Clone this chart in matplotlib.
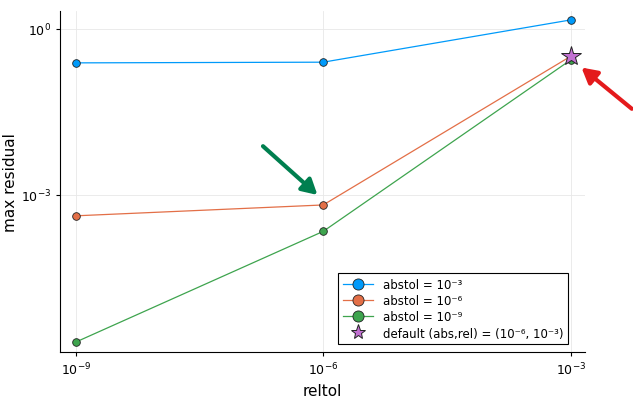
import matplotlib
matplotlib.use("Agg")
import matplotlib.pyplot as plt
import numpy as np

reltol = [1e-9, 1e-6, 1e-3]
resid_abs3 = [0.243, 0.25, 1.45]
resid_abs6 = [4.2e-4, 6.6e-4, 0.32]
resid_abs9 = [2.2e-6, 2.2e-4, 0.275]
default_pt = (1e-3, 0.32)

series = [
    ("abstol = 10⁻³", resid_abs3, "#009AFA"),
    ("abstol = 10⁻⁶", resid_abs6, "#E36F47"),
    ("abstol = 10⁻⁹", resid_abs9, "#3EA44E"),
]

fig = plt.figure(figsize=(6.33, 4.14), dpi=100)
ax = fig.add_axes([0.0948, 0.147, 0.829, 0.824])

for label, vals, col in series:
    ax.plot(reltol, vals, "-o", color=col, lw=0.9, ms=5.5, mec="#222222", mew=0.6, label=label)
ax.plot([default_pt[0]], [default_pt[1]], "*", color="#C271D2", ms=15, mec="#222222", mew=0.7,
        ls="none", label="default (abs,rel) = (10⁻⁶, 10⁻³)")

ax.set_xscale("log")
ax.set_yscale("log")
ax.set_xlim(10 ** -9.19, 10 ** -2.83)
ax.set_ylim(1.45e-6, 2.1)
ax.set_xticks(reltol)
ax.set_yticks([1e-3, 1e0])
ax.minorticks_off()
ax.grid(True, color="#e8e8e8", lw=0.6)
ax.spines["top"].set_visible(False)
ax.spines["right"].set_visible(False)
ax.tick_params(labelsize=9, length=3)
ax.set_xlabel("reltol", fontsize=11)
ax.set_ylabel("max residual", fontsize=11)
ax.yaxis.set_label_coords(-0.08, 0.5)

# annotation arrows
ax.annotate("", xy=(10 ** -6.07, 1.0e-3), xytext=(10 ** -6.73, 7.6e-3),
            arrowprops=dict(arrowstyle="-|>,head_length=0.9,head_width=0.5", color="#007F4F", lw=3,
                            shrinkA=0, shrinkB=0))
ax.annotate("", xy=(10 ** -2.87, 0.2), xytext=(10 ** -2.26, 0.036), annotation_clip=False,
            arrowprops=dict(arrowstyle="-|>,head_length=0.9,head_width=0.5", color="#E41A1C", lw=3,
                            shrinkA=0, shrinkB=0))

leg = ax.legend(loc="lower right", bbox_to_anchor=(0.968, 0.023), borderaxespad=0, fontsize=8.5,
                fancybox=False, edgecolor="black", framealpha=1, handlelength=2.6,
                labelspacing=0.28, borderpad=0.4)
leg.get_frame().set_linewidth(0.8)
for h in leg.legend_handles[:3]:
    h.set_markersize(8)
leg.legend_handles[3].set_markersize(11)

fig.savefig("out.png", dpi=100)
